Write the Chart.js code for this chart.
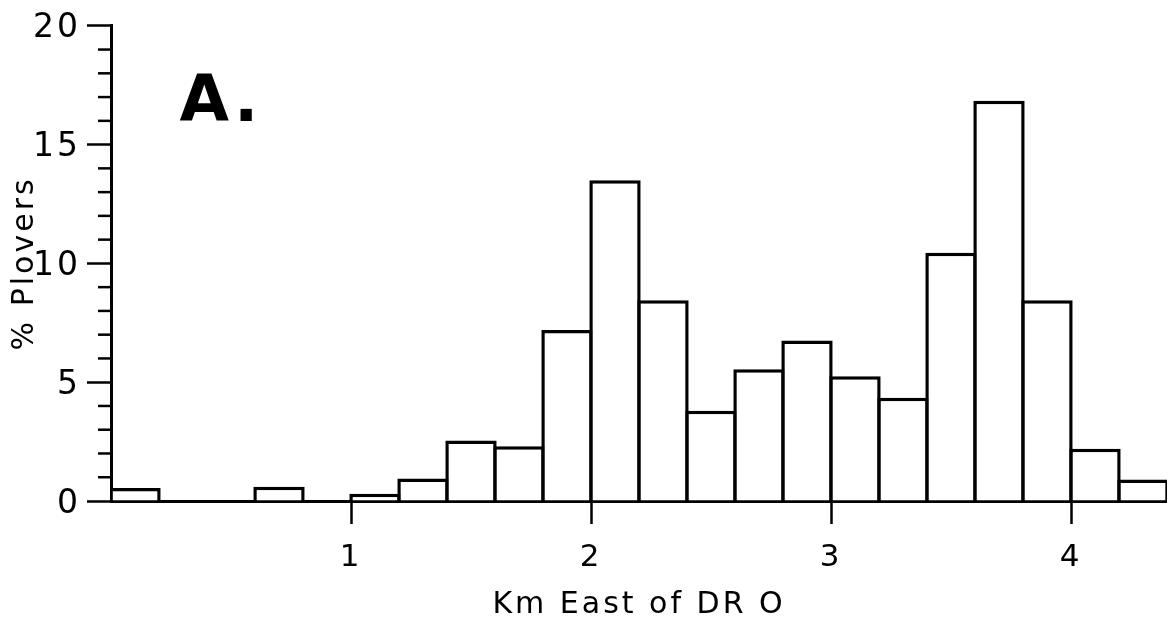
<!DOCTYPE html>
<html>
<head>
<meta charset="utf-8">
<title>% Plovers by distance</title>
<script src="https://cdn.jsdelivr.net/npm/chart.js@4.4.1/dist/chart.umd.min.js"></script>
<style>
  html, body { margin: 0; padding: 0; background: #fff; }
  #wrap { width: 1167px; height: 623px; position: relative; }
</style>
</head>
<body>
<div id="wrap"><canvas id="chartPlovers"></canvas></div>
<script>
(function() {
  'use strict';

  // 0.2 km bins, lower edge and centre (km east of DR 0)
  const binStart  = [0.0, 0.2, 0.4, 0.6, 0.8, 1.0, 1.2, 1.4, 1.6, 1.8, 2.0,
                     2.2, 2.4, 2.6, 2.8, 3.0, 3.2, 3.4, 3.6, 3.8, 4.0, 4.2];
  const binCenter = [0.1, 0.3, 0.5, 0.7, 0.9, 1.1, 1.3, 1.5, 1.7, 1.9, 2.1,
                     2.3, 2.5, 2.7, 2.9, 3.1, 3.3, 3.5, 3.7, 3.9, 4.1, 4.3];
  // % of plovers per bin
  const plovers   = [0.55, 0, 0, 0.6, 0, 0.3, 0.95, 2.55, 2.3, 7.2, 13.5,
                     8.45, 3.8, 5.55, 6.75, 5.25, 4.35, 10.45, 16.85, 8.45, 2.2, 0.9];

  const xTickValues = [1, 2, 3, 4];
  const yMajorStep = 5;
  const panelLabel = 'A.';

  const FONT = '"DejaVu Sans", sans-serif';
  const INK = '#000';

  // short minor ticks on the y axis + panel letter
  const extrasPlugin = {
    id: 'extras',
    beforeDraw(chart) {
      chart.ctx.letterSpacing = '3px';
    },
    afterDraw(chart) {
      const ctx = chart.ctx;
      const y = chart.scales.y;
      const x = chart.scales.x;
      const axisX = chart.chartArea.left;
      ctx.save();
      ctx.strokeStyle = INK;
      ctx.lineWidth = 2.5;
      y.ticks.forEach(t => {
        if (t.value % yMajorStep === 0) return;
        const py = y.getPixelForValue(t.value);
        ctx.beginPath();
        ctx.moveTo(axisX - 13, py);
        ctx.lineTo(axisX, py);
        ctx.stroke();
      });
      ctx.fillStyle = INK;
      ctx.font = 'bold 64px ' + FONT;
      ctx.letterSpacing = '4px';
      ctx.textAlign = 'left';
      ctx.textBaseline = 'alphabetic';
      ctx.fillText(panelLabel, x.getPixelForValue(0.285), y.getPixelForValue(16));
      ctx.restore();
    }
  };

  const canvas = document.getElementById('chartPlovers');
  const ctx = canvas.getContext('2d');

  new Chart(ctx, {
    type: 'bar',
    data: {
      labels: binStart,
      datasets: [{
        label: '% Plovers',
        data: binCenter.map((c, i) => ({ x: c, y: plovers[i] })),
        backgroundColor: '#fff',
        borderColor: INK,
        borderWidth: 3.5,
        borderSkipped: 'start',
        categoryPercentage: 1,
        barPercentage: 1.07
      }]
    },
    options: {
      responsive: true,
      maintainAspectRatio: false,
      animation: false,
      layout: { padding: { top: 23, right: 0, bottom: 0, left: 0 } },
      plugins: {
        legend: { display: false },
        tooltip: { enabled: false }
      },
      scales: {
        x: {
          type: 'linear',
          min: 0,
          max: 4.4,
          offset: false,
          afterBuildTicks(scale) {
            scale.ticks = xTickValues.map(v => ({ value: v }));
          },
          afterFit(scale) { scale.height = 122; },
          ticks: {
            color: INK,
            font: { family: FONT, size: 31 },
            padding: 15,
            maxRotation: 0,
            autoSkip: false,
            callback: v => String(v)
          },
          grid: {
            offset: false,
            drawOnChartArea: false,
            tickLength: 23,
            tickWidth: 2.5,
            tickColor: INK
          },
          border: { display: true, color: INK, width: 3 },
          title: {
            display: true,
            text: 'Km East of DR O',
            color: INK,
            font: { family: FONT, size: 30 },
            padding: { top: 0, bottom: 0 }
          }
        },
        y: {
          min: 0,
          max: 20,
          afterFit(scale) { scale.width = 111; },
          ticks: {
            stepSize: 1,
            autoSkip: false,
            maxTicksLimit: 30,
            color: INK,
            font: { family: FONT, size: 33 },
            padding: 6,
            labelOffset: 3,
            callback: v => (v % yMajorStep === 0 ? String(v) : '')
          },
          grid: {
            drawOnChartArea: false,
            tickLength: 24,
            tickWidth: 2.5,
            tickColor: c => (c.tick && c.tick.value % yMajorStep === 0 ? INK : 'rgba(0,0,0,0)')
          },
          border: { display: true, color: INK, width: 3 },
          title: {
            display: true,
            text: '% Plovers',
            color: INK,
            font: { family: FONT, size: 30 },
            padding: { top: 7, bottom: 0 }
          }
        }
      }
    },
    plugins: [extrasPlugin]
  });
})();
</script>
</body>
</html>
